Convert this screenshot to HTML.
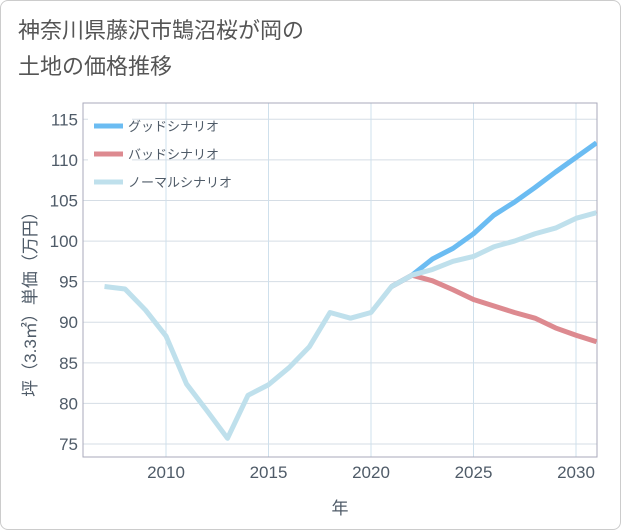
<!DOCTYPE html>
<html><head><meta charset="utf-8"><style>
body{margin:0;background:#fff;font-family:"Liberation Sans","Noto Sans CJK JP",sans-serif}
#card{position:absolute;left:0;top:0;width:619px;height:528px;border:1px solid #ccc;border-radius:8px;background:#fff}
#title{position:absolute;left:18px;top:13px;font-size:22px;line-height:36px;color:#555}
</style></head><body>
<div id="card"></div>
<div id="title">神奈川県藤沢市鵠沼桜が岡の<br>土地の価格推移</div>
<svg id="chart" width="621" height="530" style="position:absolute;left:0;top:0"></svg>
<script>
const years=[2007,2008,2009,2010,2011,2012,2013,2014,2015,2016,2017,2018,2019,2020,2021,2022,2023,2024,2025,2026,2027,2028,2029,2030,2031];
const normal=[94.4,94.1,91.5,88.3,82.4,79.1,75.7,81,82.3,84.4,87,91.2,90.5,91.2,94.4,95.8,96.5,97.5,98.1,99.3,100.0,100.9,101.6,102.8,103.5];
const goodYears=[2021,2022,2023,2024,2025,2026,2027,2028,2029,2030,2031];
const good=[94.4,95.8,97.8,99.1,100.9,103.2,104.8,106.6,108.5,110.3,112.1];
const bad=[94.4,95.8,95.1,94.0,92.8,92.0,91.2,90.5,89.3,88.4,87.6];
const yTicks=[75,80,85,90,95,100,105,110,115];
const xTicks=[2010,2015,2020,2025,2030];
const L=83,R=597,T=103,B=457;
const x=v=>166+(v-2010)*(576-166)/20;
const y=v=>444-(v-75)*(444-119.3)/40;
const svg=document.getElementById('chart');const NS='http://www.w3.org/2000/svg';
const TC='#4f5b68';
function mk(t,a,p){const e=document.createElementNS(NS,t);for(const k in a)e.setAttribute(k,a[k]);(p||svg).appendChild(e);return e;}
for(const t of yTicks){const l=mk('line',{x1:L,x2:R,y1:y(t),y2:y(t),stroke:'#d5dde5','stroke-width':1});
const tx=mk('text',{x:L-5,y:y(t)+6,'text-anchor':'end','font-size':17,fill:TC});tx.textContent=t;}
for(const t of xTicks){const l=mk('line',{x1:x(t),x2:x(t),y1:T,y2:B,stroke:'#cfe0ec','stroke-width':1});
const tx=mk('text',{x:x(t),y:B+21,'text-anchor':'middle','font-size':17,fill:TC});tx.textContent=t;}
const fr=mk('rect',{x:L,y:T,width:R-L,height:B-T,fill:'none',stroke:'#aab','stroke-width':1});
const cp=mk('clipPath',{id:'c'});mk('rect',{x:L,y:T,width:R-L,height:B-T},cp);
function line(xs,vs,c,n){const p=mk('polyline',{points:xs.map((v,i)=>x(v)+','+y(vs[i])).join(' '),fill:'none',stroke:c,'stroke-width':5,'stroke-linejoin':'round','clip-path':'url(#c)'});}
line(goodYears,good,'#6bbcf2','good-scenario-line');
line(goodYears,bad,'#dd8a90','bad-scenario-line');
line(years,normal,'#bfe0ec','normal-scenario-line');
const lg=mk('rect',{x:88,y:110,width:44,height:84,fill:'#fff'});
const items=[['グッドシナリオ','#6bbcf2'],['バッドシナリオ','#dd8a90'],['ノーマルシナリオ','#bfe0ec']];
items.forEach((it,i)=>{const yy=126+i*28;const g=mk('g',{});
mk('line',{x1:94,x2:123,y1:yy,y2:yy,stroke:it[1],'stroke-width':5},g);
const tx=mk('text',{x:128,y:yy+5,'font-size':13,fill:TC},g);tx.textContent=it[0];});
const xt=mk('text',{x:340,y:514,'text-anchor':'middle','font-size':17,fill:TC});xt.textContent='年';
const yt=mk('text',{x:0,y:0,'text-anchor':'middle','font-size':17,fill:TC,transform:'translate(36,300) rotate(-90)'});yt.textContent='坪（3.3㎡）単価（万円）';
</script>
</body></html>
